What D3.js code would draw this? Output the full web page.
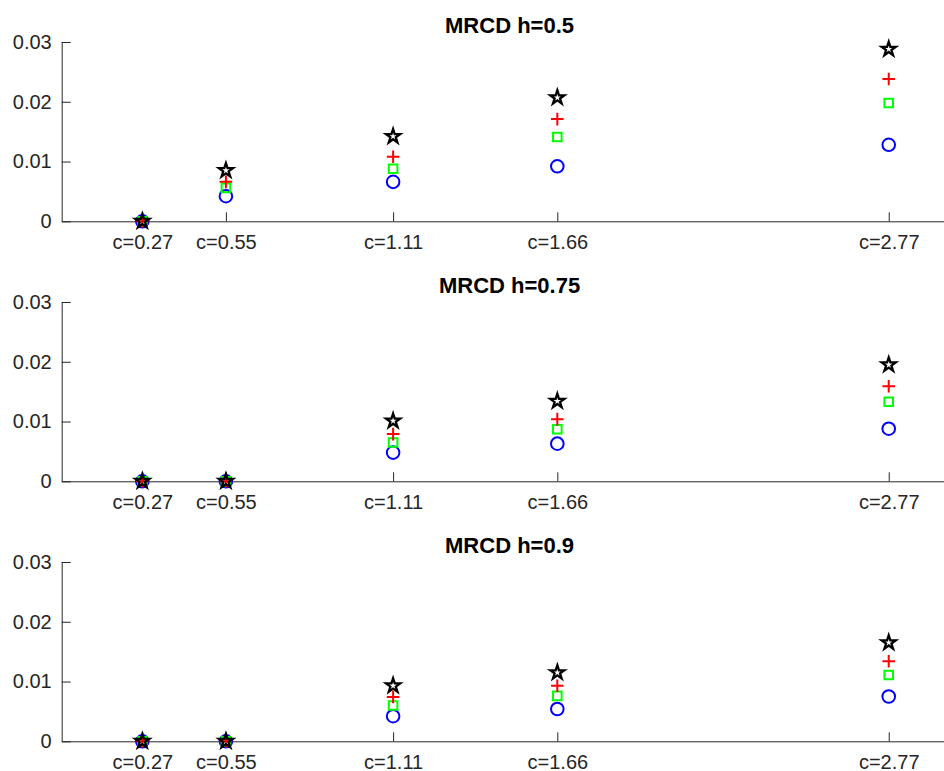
<!DOCTYPE html>
<html>
<head>
<meta charset="utf-8">
<script src="https://cdn.jsdelivr.net/npm/d3@7"></script>
<style>
  html, body { margin: 0; padding: 0; background: #ffffff; }
  svg { display: block; font-family: "Liberation Sans", Arial, Helvetica, sans-serif; }
</style>
</head>
<body>
<svg id="chart" width="944" height="771"></svg>
<script>
// Contamination levels on the x axis
const cValues = [0.27, 0.55, 1.11, 1.66, 2.77];
const xTickLabels = ["c=0.27", "c=0.55", "c=1.11", "c=1.66", "c=2.77"];
const yTickValues = [0, 0.01, 0.02, 0.03];
const yTickLabels = ["0", "0.01", "0.02", "0.03"];
const panelTitles = ["MRCD h=0.5", "MRCD h=0.75", "MRCD h=0.9"];

// h = 0.5
const h05Circle = [0, 0.0042, 0.0066, 0.0092, 0.0128];
const h05Square = [0, 0.0056, 0.0088, 0.0141, 0.0198];
const h05Plus   = [0, 0.0066, 0.0108, 0.0171, 0.0238];
const h05Star   = [0, 0.0085, 0.0142, 0.0207, 0.0288];

// h = 0.75
const h075Circle = [0, 0, 0.0048, 0.0063, 0.0088];
const h075Square = [0, 0, 0.0065, 0.0087, 0.0133];
const h075Plus   = [0, 0, 0.0079, 0.0104, 0.0159];
const h075Star   = [0, 0, 0.0101, 0.0134, 0.0195];

// h = 0.9
const h09Circle = [0, 0, 0.0042, 0.0054, 0.0075];
const h09Square = [0, 0, 0.0060, 0.0076, 0.0111];
const h09Plus   = [0, 0, 0.0074, 0.0093, 0.0134];
const h09Star   = [0, 0, 0.0093, 0.0115, 0.0165];

const panels = [
  { title: panelTitles[0], circle: h05Circle, square: h05Square, plus: h05Plus, star: h05Star },
  { title: panelTitles[1], circle: h075Circle, square: h075Square, plus: h075Plus, star: h075Star },
  { title: panelTitles[2], circle: h09Circle, square: h09Square, plus: h09Plus, star: h09Star }
];

const axisColor = "#262626";
const svg = d3.select("#chart");

const left = 61.7, plotW = 895.7;   // x domain [0, 3]
const panelTop = 42, plotH = 179.3, panelStep = 260;

const x = d3.scaleLinear().domain([0, 3]).range([left, left + plotW]);

// Marker shapes, centred on the origin
function starPath(R) {
  const r = R * 0.382;
  const pts = [];
  for (let i = 0; i < 10; i++) {
    const a = -Math.PI / 2 + i * Math.PI / 5;
    const rad = i % 2 === 0 ? R : r;
    pts.push([rad * Math.cos(a), rad * Math.sin(a)]);
  }
  return "M" + pts.map(p => p[0].toFixed(2) + "," + p[1].toFixed(2)).join("L") + "Z";
}
const markers = [
  { key: "circle", color: "#0000ff", width: 2,   path: d3.symbol(d3.symbolCircle, Math.PI * 6.3 * 6.3)() },
  { key: "square", color: "#00ff00", width: 2,   path: "M-4.3,-4.3H4.3V4.3H-4.3Z" },
  { key: "plus",   color: "#ff0000", width: 2,   path: "M-6.3,0H6.3M0,-6.3V6.3" },
  { key: "star",   color: "#000000", width: 2.3, path: starPath(7.4) }
];

panels.forEach((panel, i) => {
  const top = panelTop + i * panelStep;
  const y = d3.scaleLinear().domain([0, 0.03]).range([top + plotH, top]);
  const g = svg.append("g");

  // y axis
  const yAxis = d3.axisLeft(y)
    .tickValues(yTickValues)
    .tickFormat((d, k) => yTickLabels[k])
    .tickSizeInner(-9)
    .tickSizeOuter(0)
    .tickPadding(10);
  const gy = g.append("g").attr("transform", `translate(${left},0)`).call(yAxis);

  // x axis
  const xAxis = d3.axisBottom(x)
    .tickValues(cValues)
    .tickFormat((d, k) => xTickLabels[k])
    .tickSizeInner(-9)
    .tickSizeOuter(0)
    .tickPadding(14);
  const gx = g.append("g").attr("transform", `translate(0,${top + plotH})`).call(xAxis);

  [gx, gy].forEach(ax => {
    ax.select(".domain").attr("stroke", axisColor).attr("stroke-width", 1);
    ax.selectAll(".tick line").attr("stroke", axisColor).attr("stroke-width", 1);
    ax.selectAll(".tick text").attr("fill", axisColor).style("font-size", "20px");
  });
  gx.selectAll(".tick text").attr("dy", "0.7em");

  // title
  g.append("text")
    .attr("x", (x.range()[0] + x.range()[1]) / 2)
    .attr("y", top - 8.7)
    .attr("text-anchor", "middle")
    .attr("fill", "#000")
    .style("font-weight", "bold")
    .style("font-size", "22px")
    .text(panel.title);

  // markers: circle, square, plus, star drawn in that order
  markers.forEach(m => {
    g.append("g").selectAll("path")
      .data(panel[m.key])
      .join("path")
      .attr("d", m.path)
      .attr("transform", (d, k) => `translate(${x(cValues[k])},${y(d)})`)
      .attr("fill", "none")
      .attr("stroke", m.color)
      .attr("stroke-width", m.width)
      .attr("stroke-linejoin", "miter");
  });
});
</script>
</body>
</html>
